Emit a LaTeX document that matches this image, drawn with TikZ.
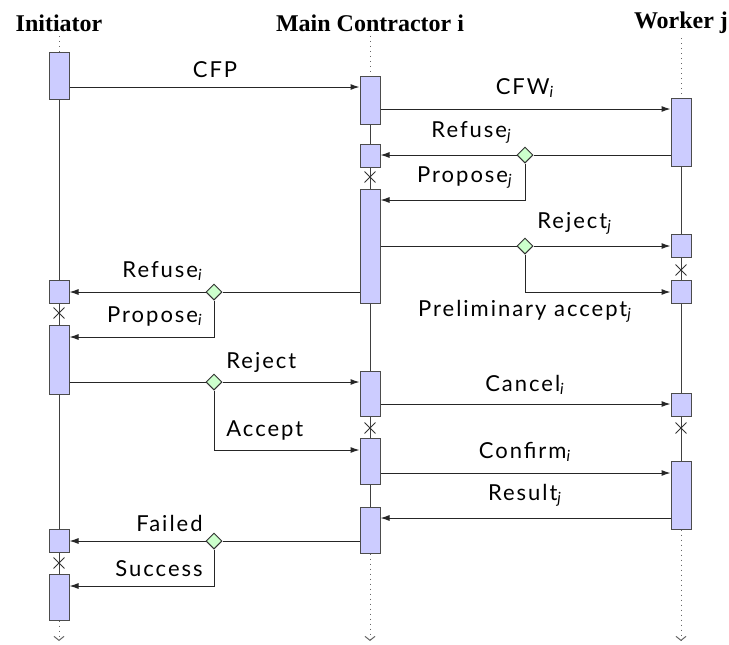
\documentclass[tikz,border=0pt]{standalone}
\usepackage{fontspec}
\setmainfont{Liberation Serif}
\newfontfamily\lblfont[LetterSpace=9]{Lato}
\usetikzlibrary{arrows.meta,shapes.geometric,shapes.misc,calc}
\newcommand\actbox[4]{\node[act, minimum height={(#4-#3)*0.5pt}] (#1) at (#2,{(#3+#4)/2}) {};}
\newcommand\sbs[1]{\textsubscript{\itshape #1}}
\begin{document}
\begin{tikzpicture}[x=0.5pt,y=-0.5pt,
  act/.style={draw=black!70, fill=blue!20, line width=0.5pt, minimum width=10pt, inner sep=0pt},
  dia/.style={diamond, draw=black!80, fill=green!20, line width=0.5pt, minimum width=8pt, minimum height=8pt, inner sep=0pt},
  xmark/.style={cross out, draw=black!80, line width=0.45pt, minimum size=5pt, inner sep=0pt},
  head/.style={font=\bfseries\fontsize{12}{14}\selectfont, inner sep=2pt},
  lbl/.style={font=\lblfont\fontsize{11}{13}\selectfont, inner sep=0pt},
  msg/.style={draw=black!85, line width=0.5pt, -{Latex[length=4.5pt,width=3pt]}},
  plain/.style={draw=black!85, line width=0.5pt},
  life/.style={draw=black!75, line width=0.45pt},
  lifedot/.style={draw=black!60, line width=0.5pt, dotted},
  lifeend/.style={draw=black!60, line width=0.5pt, dotted, -{Straight Barb[length=2pt,width=5pt,line width=0.5pt]}},
]
\useasboundingbox (0,0) rectangle (729,644);

% headers
\node[head] (hI) at (59,23) {Initiator};
\node[head] (hC) at (370,23) {Main Contractor i};
\node[head] (hW) at (681,23) {Worker j};

% activation boxes
\actbox{i1}{59}{52}{99}
\actbox{i2}{59}{280}{303}
\actbox{i3}{59}{325}{394}
\actbox{i4}{59}{529}{552}
\actbox{i5}{59}{574}{620}
\actbox{c1}{370}{76}{124}
\actbox{c2}{370}{144}{167}
\actbox{c3}{370}{189}{303}
\actbox{c4}{370}{371}{416}
\actbox{c5}{370}{438}{484}
\actbox{c6}{370}{507}{553}
\actbox{w1}{681}{98}{166}
\actbox{w2}{681}{234}{257}
\actbox{w3}{681}{280}{303}
\actbox{w4}{681}{393}{416}
\actbox{w5}{681}{461}{529}

% end coordinates
\coordinate (eI) at (59,641);
\coordinate (eC) at (370,641);
\coordinate (eW) at (681,641);

% lifelines
\draw[lifedot] (hI.south) -- (i1.north);
\draw[lifedot] (hC.south) -- (c1.north);
\draw[lifedot] (hW.south) -- (w1.north);
\draw[life] (i1.south) -- (i2.north) (i2.south) -- (i3.north) (i3.south) -- (i4.north) (i4.south) -- (i5.north);
\draw[life] (c1.south) -- (c2.north) (c2.south) -- (c3.north) (c3.south) -- (c4.north) (c4.south) -- (c5.north) (c5.south) -- (c6.north);
\draw[life] (w1.south) -- (w2.north) (w2.south) -- (w3.north) (w3.south) -- (w4.north) (w4.south) -- (w5.north);
\draw[lifeend] (i5.south) -- (eI);
\draw[lifeend] (c6.south) -- (eC);
\draw[lifeend] (w5.south) -- (eW);

% crosses
\node[xmark] (xI1) at (59,313) {};
\node[xmark] (xI2) at (59,563) {};
\node[xmark] (xC1) at (370,177) {};
\node[xmark] (xC2) at (370,428) {};
\node[xmark] (xW1) at (681,270) {};
\node[xmark] (xW2) at (681,428) {};

% decision diamonds
\node[dia] (d1) at (525,155) {};
\node[dia] (d2) at (525,246) {};
\node[dia] (d3) at (214,292) {};
\node[dia] (d4) at (214,382) {};
\node[dia] (d5) at (214,541) {};

% messages
\draw[msg] (i1.east |- 0,87) -- (c1.west |- 0,87);
\draw[msg] (c1.east |- 0,109) -- (w1.west |- 0,109);
\draw[plain] (w1.west |- d1) -- (d1.east);
\draw[msg] (d1.west) -- (c2.east |- d1);
\draw[msg] (d1.south) |- (c3.east |- 0,200);
\draw[plain] (c3.east |- d2) -- (d2.west);
\draw[msg] (d2.east) -- (w2.west |- d2);
\draw[msg] (d2.south) |- (w3.west |- 0,292);
\draw[plain] (c3.west |- d3) -- (d3.east);
\draw[msg] (d3.west) -- (i2.east |- d3);
\draw[msg] (d3.south) |- (i3.east |- 0,337);
\draw[plain] (i3.east |- d4) -- (d4.west);
\draw[msg] (d4.east) -- (c4.west |- d4);
\draw[msg] (d4.south) |- (c5.west |- 0,450);
\draw[msg] (c4.east |- 0,404) -- (w4.west |- 0,404);
\draw[msg] (c5.east |- 0,473) -- (w5.west |- 0,473);
\draw[msg] (w5.west |- 0,518) -- (c6.east |- 0,518);
\draw[plain] (c6.west |- d5) -- (d5.east);
\draw[msg] (d5.west) -- (i4.east |- d5);
\draw[msg] (d5.south) |- (i5.east |- 0,586);

% labels
\node[lbl, anchor=base] (lCFP) at (215,77) {CFP};
\node[lbl, anchor=base] (lCFW) at (525,94) {CFW\sbs{i}};
\node[lbl, anchor=base east] (lRfj) at (512,137) {Refuse\sbs{j}};
\node[lbl, anchor=base east] (lPpj) at (513,182) {Propose\sbs{j}};
\node[lbl, anchor=base west] (lRjj) at (537,228) {Reject\sbs{j}};
\node[lbl, anchor=base] (lPa) at (525,316) {Preliminary accept\sbs{j}};
\node[lbl, anchor=base east] (lRfi) at (203,277) {Refuse\sbs{i}};
\node[lbl, anchor=base east] (lPpi) at (203,322) {Propose\sbs{i}};
\node[lbl, anchor=base west] (lRj) at (226,368) {Reject};
\node[lbl, anchor=base west] (lAc) at (226,436) {Accept};
\node[lbl, anchor=base] (lCa) at (525,391) {Cancel\sbs{i}};
\node[lbl, anchor=base] (lCo) at (525,458) {Confirm\sbs{i}};
\node[lbl, anchor=base] (lRe) at (525,500) {Result\sbs{j}};
\node[lbl, anchor=base east] (lFa) at (203,531) {Failed};
\node[lbl, anchor=base east] (lSu) at (203,576) {Success};
\end{tikzpicture}
\end{document}
